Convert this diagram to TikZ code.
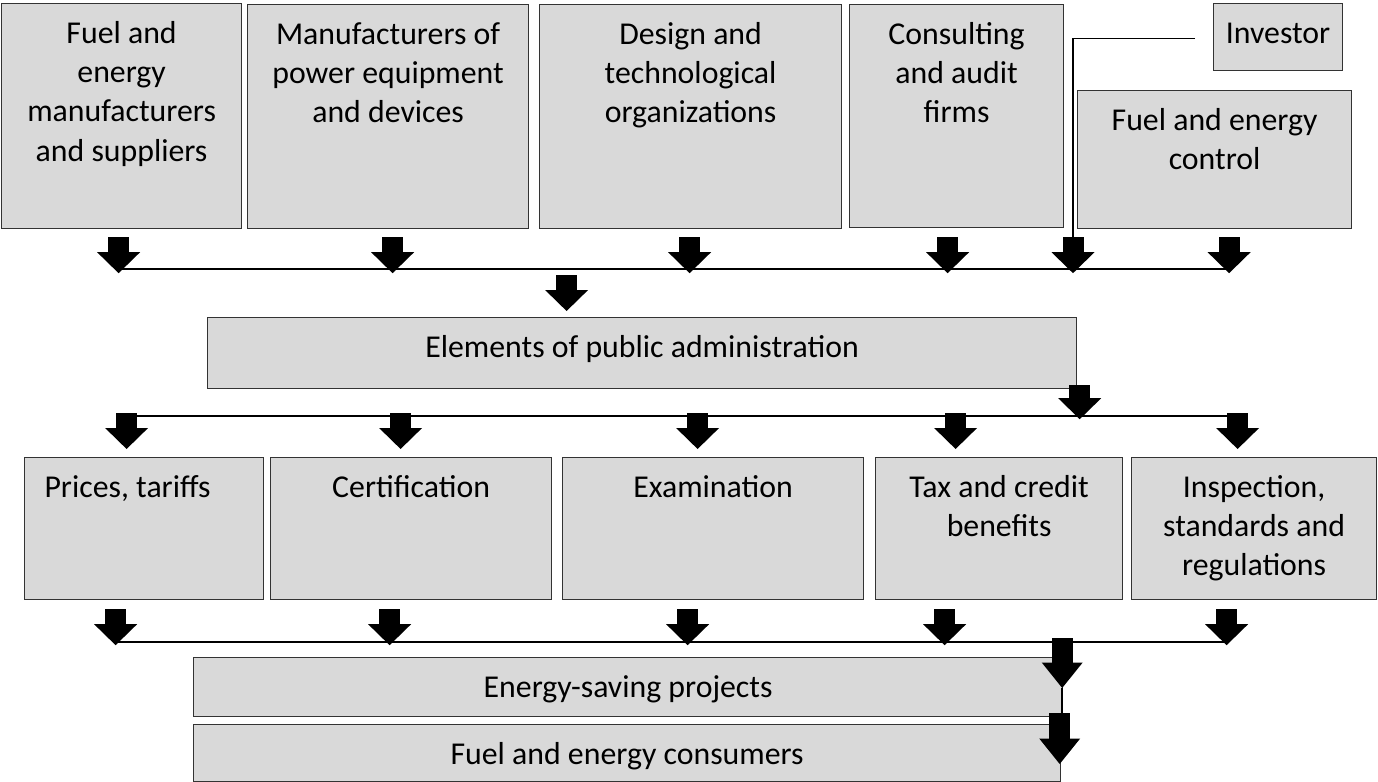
\documentclass[tikz,border=0pt]{standalone}
\usepackage{fontspec}
\setmainfont{Carlito}
\usetikzlibrary{arrows.meta}

\definecolor{boxgray}{HTML}{D9D9D9}
\newcommand\boxfont{\fontsize{15.9}{19.6}\selectfont}

\tikzset{
    box/.style={draw=black!80, line width=0.6pt, fill=boxgray, rectangle, anchor=north west, inner sep=0pt},
    boxsize/.style 2 args={minimum width=#1*0.5pt, minimum height=#2*0.5pt},
    boxtext/.style={anchor=north, yshift=-6pt, inner sep=0pt, align=center, font=\boxfont, execute at begin node={\rule{0pt}{14pt}}},
    toplabel/.style={label={[boxtext]north:#1}},
    toplines/.style={label={[boxtext, yshift=-3pt]north:#1}},
    blockarrow/.style={line width=10.5pt, -{Triangle[width=21.5pt, length=10.5pt, line width=0pt]}},
    bigarrow/.style={line width=10.5pt, -{Triangle[width=20.5pt, length=12.75pt, line width=0pt]}},
    bus/.style={line width=1pt},
}

\begin{document}
\begin{tikzpicture}[x=0.5pt, y=-0.5pt]
    \useasboundingbox (0, 0) rectangle (1378, 782); % bounding box

    % participants
    \node at (   1,   3) [box, boxsize={240}{225}, toplines={Fuel and\\energy\\manufacturers\\and suppliers}] (fuelsup)    {};
    \node at ( 247,   4) [box, boxsize={281}{224}, toplines={Manufacturers of\\power equipment\\and devices}]  (powerequip) {};
    \node at ( 539,   4) [box, boxsize={302}{224}, toplines={Design and\\technological\\organizations}]        (design)     {};
    \node at ( 849,   4) [box, boxsize={214}{223}, toplines={Consulting\\and audit\\firms}]                     (consult)    {};
    \node at (1213,   3) [box, boxsize={129}{67},  toplabel={Investor}]                                         (investor)   {};
    \node at (1077,  90) [box, boxsize={274}{138}, toplines={Fuel and energy\\control}]                         (control)    {};

    % public administration
    \node at ( 207, 317) [box, boxsize={869}{71},  toplabel={Elements of public administration}]                (admin)      {};

    % instruments
    \node at (  24, 457) [box, boxsize={239}{142}, label={[boxtext, xshift=-8.25pt]north:{Prices, tariffs}}]    (prices)     {};
    \node at ( 270, 457) [box, boxsize={281}{142}, toplabel={Certification}]                                    (cert)       {};
    \node at ( 562, 457) [box, boxsize={301}{142}, toplabel={Examination}]                                      (exam)       {};
    \node at ( 875, 457) [box, boxsize={247}{142}, toplines={Tax and credit\\benefits}]                         (tax)        {};
    \node at (1131, 457) [box, boxsize={245}{142}, toplines={Inspection,\\standards and\\regulations}]          (inspect)    {};

    % results
    \node at ( 193, 657) [box, boxsize={869}{59},  toplabel={Energy-saving projects}]                           (projects)   {};
    \node at ( 193, 724) [box, boxsize={867}{57},  toplabel={Fuel and energy consumers}]                        (consumers)  {};

    % participants -> administration
    \coordinate (invdrop) at ([xshift=-2pt, yshift=-4pt]control.south west);
    \draw [line width=0.8pt] ([xshift=-9pt, yshift=-0.75pt]investor.west) -| (invdrop);

    \draw [blockarrow] ([xshift=-1.5pt,  yshift=-4pt]fuelsup.south)    -- ++(0, 36) coordinate (a1);
    \draw [blockarrow] ([xshift=2.25pt,  yshift=-4pt]powerequip.south) -- ++(0, 36) coordinate (a2);
    \draw [blockarrow] ([xshift=-0.5pt,  yshift=-4pt]design.south)     -- ++(0, 36) coordinate (a3);
    \draw [blockarrow] ([xshift=-4.5pt,  yshift=-4.5pt]consult.south)  -- ++(0, 36) coordinate (a4);
    \draw [blockarrow] (invdrop)                                       -- ++(0, 36) coordinate (a5);
    \draw [blockarrow] ([xshift=7.25pt,  yshift=-4pt]control.south)    -- ++(0, 36) coordinate (a6);
    \draw [bus] ([yshift=2pt]a1) -- ([yshift=2pt]a6);

    \draw [blockarrow] ([xshift=-37.75pt, yshift=21pt]admin.north) -- ++(0, 36);

    % administration -> instruments
    \draw [blockarrow] ([xshift=1.25pt, yshift=2pt]admin.south east) -- ++(0, 34);

    \draw [blockarrow] ([xshift=-8.75pt,  yshift=22pt]prices.north)  coordinate (b1) -- ++(0, 36);
    \draw [blockarrow] ([xshift=-5.25pt,  yshift=22pt]cert.north)    coordinate (b2) -- ++(0, 36);
    \draw [blockarrow] ([xshift=-7.75pt,  yshift=22pt]exam.north)    coordinate (b3) -- ++(0, 36);
    \draw [blockarrow] ([xshift=-21.75pt, yshift=22pt]tax.north)     coordinate (b4) -- ++(0, 36);
    \draw [blockarrow] ([xshift=-8.25pt,  yshift=22pt]inspect.north) coordinate (b5) -- ++(0, 36);
    \draw [bus] ([yshift=-1.5pt]b1) -- ([yshift=-1.5pt]b5);

    % instruments -> results
    \draw [blockarrow] ([xshift=-14.25pt, yshift=-4.5pt]prices.south)  -- ++(0, 36) coordinate (c1);
    \draw [blockarrow] ([xshift=-10.75pt, yshift=-4.5pt]cert.south)    -- ++(0, 36) coordinate (c2);
    \draw [blockarrow] ([xshift=-12.75pt, yshift=-4.5pt]exam.south)    -- ++(0, 36) coordinate (c3);
    \draw [blockarrow] ([xshift=-27.25pt, yshift=-4.5pt]tax.south)     -- ++(0, 36) coordinate (c4);
    \draw [blockarrow] ([xshift=-13.75pt, yshift=-4.5pt]inspect.south) -- ++(0, 36) coordinate (c5);
    \draw [bus] ([yshift=1.5pt]c1) -- ([yshift=1.5pt]c5);

    \draw [bigarrow] ([xshift=-0.5pt, yshift=9.5pt]projects.north east) -- ++(0, 50) coordinate (d1);
    \draw [bigarrow] ([xshift=-0.75pt, yshift=5.5pt]consumers.north east) coordinate (d2) -- ++(0, 51);
    \draw [line width=0.8pt] (d1) -- (d1 |- d2);
\end{tikzpicture}
\end{document}
